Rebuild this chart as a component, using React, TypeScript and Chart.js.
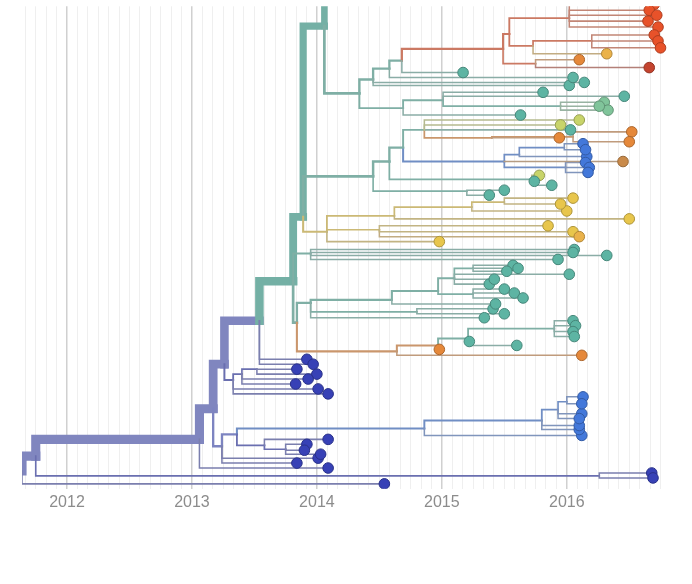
import { useEffect, useRef } from "react";
import { Chart, registerables } from "chart.js";

Chart.register(...registerables);

// [id, parent id, sampling date (decimal year), row on the tree, region]
type TreeNode = [string, string | null, number, number, string];

const trunkNodes: TreeNode[] = [
  ["R", null, 2011.64, 470, "pacific"],
  ["A", "R", 2011.75, 455, "pacific"],
  ["B", "A", 2013.06, 438, "pacific"],
  ["B2", "B", 2013.17, 407, "pacific"],
  ["B3", "B2", 2013.26, 362, "pacific"],
  ["T0", "B3", 2013.54, 318, "pacific"],
  ["T1", "T0", 2013.81, 278, "brazil"],
  ["T2", "T1", 2013.89, 213, "brazil"],
  ["T3", "T2", 2014.06, 20, "brazil"],
  ["T4", "T3", 2014.12, -40, "brazil"],
];

const asiaNodes: TreeNode[] = [
  ["LB", "R", 2014.54, 483, "asia"],
  ["C", "A", 2016.26, 475, "asia"],
  ["C1", "C", 2016.68, 472, "asia"],
  ["C2", "C", 2016.69, 477, "asia"],
  ["Bt", "B", 2014.09, 467, "asia"],
  ["LC", "B2", 2013.24, 445, "pacific"],
  ["LCa", "LC", 2013.84, 462, "asia"],
  ["LCb", "LC", 2014.01, 457, "asia"],
  ["LB0", "LC", 2013.36, 433, "pacific"],
  ["LD", "LB0", 2013.58, 444, "asia"],
  ["LDa", "LD", 2014.09, 438, "asia"],
  ["LD2", "LD", 2013.75, 448, "asia"],
  ["LD2a", "LD2", 2013.92, 443, "asia"],
  ["LD2b", "LD2", 2013.9, 449, "asia"],
  ["LD2c", "LD2", 2014.03, 453, "asia"],
  ["UC", "B3", 2013.33, 378, "asia"],
  ["UCa", "UC", 2014.01, 387, "asia"],
  ["UCb", "UC", 2014.09, 392, "asia"],
  ["UC1", "UC", 2013.4, 372, "asia"],
  ["UC2", "UC1", 2013.52, 367, "asia"],
  ["UC2a", "UC2", 2013.84, 367, "asia"],
  ["UC2b", "UC2", 2014.0, 372, "asia"],
  ["UC1a", "UC1", 2013.83, 382, "asia"],
  ["UC1b", "UC1", 2013.93, 377, "asia"],
  ["T0a", "T0", 2013.92, 357, "asia"],
  ["T0b", "T0", 2013.97, 362, "asia"],
];

const northAmericaNodes: TreeNode[] = [
  ["LB1", "LB0", 2014.86, 427, "northam"],
  ["LB2", "LB1", 2015.8, 419, "northam"],
  ["LB1a", "LB1", 2016.12, 434, "northam"],
  ["LB3", "LB2", 2015.93, 408, "northam"],
  ["LB2a", "LB2", 2016.1, 428, "northam"],
  ["LB2b", "LB2", 2016.1, 424, "northam"],
  ["LB4", "LB3", 2016.0, 400, "northam"],
  ["LB3a", "LB3", 2016.12, 412, "northam"],
  ["LB3b", "LB3", 2016.1, 417, "northam"],
  ["LB4a", "LB4", 2016.13, 395, "northam"],
  ["LB4b", "LB4", 2016.12, 402, "northam"],
];

const caribbeanNodes: TreeNode[] = [
  ["N88", "T3", 2014.34, 88, "brazil"],
  ["Na", "N88", 2014.45, 74, "brazil"],
  ["Nb", "N88", 2014.69, 103, "brazil"],
  ["Nc", "Na", 2014.58, 63, "brazil"],
  ["Na1", "Na", 2016.02, 80, "brazil"],
  ["Na2", "Na", 2016.14, 77, "brazil"],
  ["Nd", "Nc", 2014.68, 55, "brazil"],
  ["Nc1", "Nc", 2016.05, 72, "brazil"],
  ["Nd1", "Nd", 2015.17, 67, "brazil"],
  ["R0", "Nd", 2015.49, 43, "caribbean"],
  ["R1", "R0", 2015.54, 28, "caribbean"],
  ["R2", "R0", 2015.75, 58, "caribbean"],
  ["R3", "R1", 2016.02, 12, "caribbean"],
  ["R4", "R1", 2015.73, 40, "caribbean"],
  ["R3a", "R3", 2016.7, -2, "caribbean"],
  ["R3b", "R3", 2016.66, 4, "caribbean"],
  ["R3c", "R3", 2016.72, 9, "caribbean"],
  ["R3d", "R3", 2016.65, 15, "caribbean"],
  ["R3e", "R3", 2016.73, 21, "caribbean"],
  ["R5", "R4", 2016.2, 35, "caribbean"],
  ["R4a", "R4", 2016.32, 48, "yelloworange"],
  ["R5a", "R5", 2016.7, 29, "caribbean"],
  ["R5b", "R5", 2016.73, 35, "caribbean"],
  ["R5c", "R5", 2016.75, 42, "caribbean"],
  ["R2a", "R2", 2016.1, 54, "central"],
  ["R2b", "R2", 2016.66, 62, "mexico"],
  ["Ne", "Nb", 2015.01, 95, "brazil"],
  ["Nb1", "Nb", 2015.63, 110, "brazil"],
  ["Ne1", "Ne", 2015.81, 87, "brazil"],
  ["Ne2", "Ne", 2016.46, 91, "brazil"],
  ["Nf", "Ne", 2015.95, 101, "brazil"],
  ["Nf1", "Nf", 2016.3, 97, "greenteal"],
  ["Nf2", "Nf", 2016.33, 105, "greenteal"],
  ["Nf3", "Nf", 2016.26, 101, "greenteal"],
];

const middleNodes: TreeNode[] = [
  ["M1", "T2", 2014.45, 172, "brazil"],
  ["M2", "M1", 2014.58, 157, "brazil"],
  ["M7", "M1", 2015.2, 187, "brazil"],
  ["M7a", "M7", 2015.38, 191, "brazil"],
  ["M7b", "M7", 2015.5, 186, "brazil"],
  ["M3", "M2", 2014.69, 143, "brazil"],
  ["M8", "M2", 2015.72, 175, "brazil"],
  ["M8a", "M8", 2015.78, 171, "greenyellow"],
  ["M8b", "M8", 2015.74, 177, "brazil"],
  ["M8c", "M8", 2015.88, 181, "brazil"],
  ["M4", "M3", 2014.86, 125, "brazil"],
  ["M5", "M3", 2015.5, 157, "northam"],
  ["M4a", "M4", 2016.1, 115, "greenyellow"],
  ["M4b", "M4", 2015.95, 120, "greenyellow"],
  ["M4c", "M4", 2016.03, 125, "brazil"],
  ["M9", "M4", 2015.4, 133, "central"],
  ["M9a", "M9", 2015.94, 133, "central"],
  ["M10", "M9", 2016.05, 132, "central"],
  ["M10a", "M10", 2016.52, 127, "central"],
  ["M10b", "M10", 2016.5, 137, "central"],
  ["M11", "M5", 2015.62, 150, "northam"],
  ["M12", "M5", 2015.99, 163, "northam"],
  ["M5a", "M5", 2016.45, 157, "brown"],
  ["M13", "M11", 2015.98, 143, "northam"],
  ["M11a", "M11", 2016.16, 152, "northam"],
  ["M13a", "M13", 2016.13, 139, "northam"],
  ["M13b", "M13", 2016.15, 145, "northam"],
  ["M12a", "M12", 2016.15, 158, "northam"],
  ["M12b", "M12", 2016.18, 163, "northam"],
  ["M12c", "M12", 2016.17, 168, "northam"],
];

const colombiaNodes: TreeNode[] = [
  ["Y0", "T2", 2014.08, 228, "colombia"],
  ["Y1", "Y0", 2014.62, 212, "colombia"],
  ["Y0a", "Y0", 2014.98, 238, "colombia"],
  ["Y3", "Y0", 2014.5, 226, "colombia"],
  ["Y4", "Y1", 2015.24, 203, "colombia"],
  ["Y1a", "Y1", 2016.5, 215, "colombia"],
  ["Y5", "Y4", 2015.5, 198, "colombia"],
  ["Y4a", "Y4", 2016.0, 207, "colombia"],
  ["Y5a", "Y5", 2016.05, 194, "colombia"],
  ["Y5b", "Y5", 2015.95, 200, "colombia"],
  ["Y3a", "Y3", 2015.85, 222, "colombia"],
  ["Y3b", "Y3", 2016.05, 228, "colombia"],
  ["Y3c", "Y3", 2016.1, 233, "yelloworange"],
];

const brazilNodes: TreeNode[] = [
  ["BAND", "T1", 2013.95, 250, "brazil"],
  ["BANDa", "BAND", 2016.06, 246, "brazil"],
  ["BANDb", "BAND", 2016.05, 249, "brazil"],
  ["BANDc", "BAND", 2016.32, 252, "brazil"],
  ["BANDd", "BAND", 2015.93, 256, "brazil"],
  ["P1", "T1", 2013.84, 320, "brazil"],
  ["P2", "P1", 2013.95, 300, "brazil"],
  ["Q1", "P2", 2014.6, 297, "brazil"],
  ["Q5", "P2", 2014.8, 309, "brazil"],
  ["P2a", "P2", 2015.34, 315, "brazil"],
  ["Q5a", "Q5", 2015.41, 306, "brazil"],
  ["Q5b", "Q5", 2015.5, 311, "brazil"],
  ["Q2", "Q1", 2014.97, 288, "brazil"],
  ["Q1a", "Q1", 2015.43, 301, "brazil"],
  ["Q3", "Q2", 2015.1, 275, "brazil"],
  ["Q4", "Q2", 2015.25, 291, "brazil"],
  ["Q4a", "Q4", 2015.5, 286, "brazil"],
  ["Q4b", "Q4", 2015.58, 290, "brazil"],
  ["Q4c", "Q4", 2015.65, 295, "brazil"],
  ["Q6", "Q3", 2015.25, 265, "brazil"],
  ["Q3a", "Q3", 2015.38, 281, "brazil"],
  ["Q3b", "Q3", 2015.42, 276, "brazil"],
  ["Q3c", "Q3", 2016.02, 271, "brazil"],
  ["Q6a", "Q6", 2015.57, 262, "brazil"],
  ["Q6b", "Q6", 2015.61, 265, "brazil"],
  ["Q6c", "Q6", 2015.52, 268, "brazil"],
];

const centralAmericaNodes: TreeNode[] = [
  ["O1", "P1", 2014.64, 349, "central"],
  ["O2", "O1", 2014.97, 343, "central"],
  ["O1a", "O1", 2016.12, 353, "central"],
  ["O2a", "O2", 2014.98, 347, "central"],
  ["O3", "O2", 2015.21, 336, "brazil"],
  ["O3a", "O3", 2015.22, 339, "brazil"],
  ["O3b", "O3", 2015.6, 343, "brazil"],
  ["O4", "O3", 2015.9, 326, "brazil"],
  ["O4a", "O4", 2016.05, 318, "brazil"],
  ["O4b", "O4", 2016.07, 323, "brazil"],
  ["O4c", "O4", 2016.05, 329, "brazil"],
  ["O4d", "O4", 2016.06, 334, "brazil"],
];

// clade continuing above the visible window, summarised by its tip count
const collapsedClades: [string, number][] = [["T4", 140]];

const yearValues = [2012, 2013, 2014, 2015, 2016];
const yearLabels = ["2012", "2013", "2014", "2015", "2016"];
const axisRange = [2011.64, 2016.81];
const rowRange = [0, 488];

const regionColors: Record<string, string> = {
  pacific: "#6f78c9",
  asia: "#3741b6",
  northam: "#4378da",
  brazil: "#5db4a3",
  greenteal: "#80c49a",
  greenyellow: "#c8d46a",
  colombia: "#e8c64c",
  yelloworange: "#eab24a",
  central: "#e5883a",
  brown: "#c98a4a",
  caribbean: "#e8522a",
  mexico: "#c4442f",
};

function hexToRgb(h: string): number[] {
  const v = h.replace("#", "");
  return [0, 2, 4].map((i) => parseInt(v.slice(i, i + 2), 16));
}
function mix(a: string, b: string, t: number): string {
  const ca = hexToRgb(a);
  const cb = hexToRgb(b);
  const c = ca.map((x, i) => Math.round(x * (1 - t) + cb[i] * t));
  return `rgb(${c[0]},${c[1]},${c[2]})`;
}

export default function App() {
  const canvasRef = useRef<HTMLCanvasElement>(null);

  useEffect(() => {
    document.body.style.margin = "0";
    const all: TreeNode[] = [
      ...trunkNodes,
      ...asiaNodes,
      ...northAmericaNodes,
      ...caribbeanNodes,
      ...middleNodes,
      ...colombiaNodes,
      ...brazilNodes,
      ...centralAmericaNodes,
    ];
    type N = { id: string; parent: string | null; date: number; row: number; region: string; children: string[] };
    const map = new Map<string, N>();
    all.forEach(([id, parent, date, row, region]) =>
      map.set(id, { id, parent, date, row, region, children: [] })
    );
    map.forEach((n) => {
      if (n.parent && map.has(n.parent)) map.get(n.parent)!.children.push(n.id);
    });
    const collapsed = new Map<string, number>(collapsedClades);
    const tipMemo = new Map<string, number>();
    const tips = (id: string): number => {
      if (tipMemo.has(id)) return tipMemo.get(id)!;
      const n = map.get(id)!;
      let c = 0;
      if (collapsed.has(id)) c = collapsed.get(id)!;
      else if (n.children.length === 0) c = 1;
      else c = n.children.reduce((s, k) => s + tips(k), 0);
      tipMemo.set(id, c);
      return c;
    };

    const datasets: any[] = [];
    map.forEach((n) => {
      if (!n.parent) return;
      const p = map.get(n.parent)!;
      const count = tips(n.id);
      const w = 1.3 + 0.22 * Math.sqrt(count) + 0.019 * count;
      const base = regionColors[n.region];
      const isTip = n.children.length === 0 && !collapsed.has(n.id);
      let t = isTip ? 0.6 : 0.45;
      if (n.region === "pacific") t = 0.25;
      if (count > 100) t = 0.3;
      const col = mix(base, "#a8a8a8", t);
      datasets.push({
        data: [
          { x: p.date, y: p.row },
          { x: p.date, y: n.row },
          { x: n.date, y: n.row },
        ],
        showLine: true,
        borderColor: col,
        borderWidth: w,
        borderCapStyle: "square",
        borderJoinStyle: "miter",
        pointRadius: 0,
        pointHoverRadius: 0,
        order: Math.round(w * 10) + 1,
      });
    });

    const tipNodes = Array.from(map.values()).filter(
      (n) => n.children.length === 0 && !collapsed.has(n.id)
    );
    datasets.push({
      data: tipNodes.map((n) => ({ x: n.date, y: n.row })),
      showLine: false,
      pointRadius: 5.3,
      pointHoverRadius: 5.3,
      pointBackgroundColor: tipNodes.map((n) => regionColors[n.region]),
      pointBorderColor: tipNodes.map((n) => mix(regionColors[n.region], "#000000", 0.25)),
      pointBorderWidth: 1,
      order: 0,
    });

    const monthTicks: number[] = [];
    for (let m = Math.ceil(axisRange[0] * 12); m <= Math.floor(axisRange[1] * 12); m++) {
      monthTicks.push(m / 12);
    }
    const yearIndex = (v: number) =>
      yearValues.findIndex((y) => Math.abs(y - v) < 1e-6);

    const chart = new Chart(canvasRef.current!, {
      type: "scatter",
      data: { datasets },
      options: {
        animation: false,
        responsive: false,
        devicePixelRatio: 1,
        layout: { padding: { left: 22, right: 24, top: 0, bottom: 68 } },
        plugins: { legend: { display: false }, tooltip: { enabled: false } },
        events: [],
        scales: {
          x: {
            type: "linear",
            min: axisRange[0],
            max: axisRange[1],
            afterBuildTicks: (scale: any) => {
              scale.ticks = monthTicks.map((v) => ({ value: v }));
            },
            ticks: {
              autoSkip: false,
              maxRotation: 0,
              padding: 4,
              color: "#8c8c8c",
              font: { size: 16, family: "'Liberation Sans', Arial, sans-serif" },
              callback: (v: any) => {
                const i = yearIndex(Number(v));
                return i >= 0 ? yearLabels[i] : "";
              },
            },
            grid: {
              drawTicks: false,
              color: (ctx: any) =>
                ctx.tick && yearIndex(ctx.tick.value) >= 0 ? "#d0d0d0" : "#efefef",
              lineWidth: (ctx: any) =>
                ctx.tick && yearIndex(ctx.tick.value) >= 0 ? 1.5 : 1,
            },
            border: { display: false },
          },
          y: {
            type: "linear",
            min: rowRange[0],
            max: rowRange[1],
            reverse: true,
            display: false,
          },
        },
      },
    });
    return () => chart.destroy();
  }, []);

  return (
    <div style={{ position: "fixed", left: 0, top: 0, width: 692, height: 584, background: "#fff" }}>
      <canvas ref={canvasRef} width={692} height={584} />
    </div>
  );
}
